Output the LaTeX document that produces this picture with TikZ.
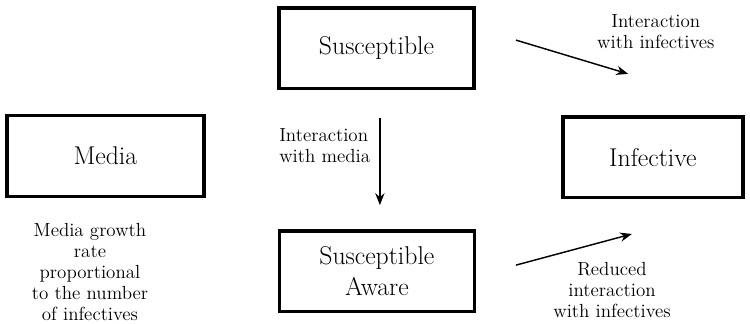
\documentclass[tikz,border=0pt]{standalone}
\usetikzlibrary{arrows.meta}
\tikzset{
    box/.style={draw, line width=2.7pt, minimum height=2.15cm,
                inner sep=4pt, align=center,
                font=\fontsize{19.5}{23}\selectfont},
    flow/.style={-{Stealth[length=9pt, width=7pt]}, line width=1.1pt},
    note/.style={align=center, font=\fontsize{14.4}{16}\selectfont},
}

\begin{document}
\begin{tikzpicture}
    \useasboundingbox (0,0) rectangle (20,8.64);
    \node[box, minimum width=5.2cm] (sus) at (10.04, 7.35) {Susceptible};
    \node[box, minimum width=5.25cm] (media) at (2.81, 4.48) {Media};
    \node[box, minimum width=4.8cm] (inf) at (17.41, 4.45) {Infective};
    \node[box, minimum width=5.2cm] (aware) at (10.05, 1.41) {Susceptible\\Aware};

    \coordinate (topA) at (13.76, 7.57);
    \coordinate (topB) at (16.75, 6.67);
    \coordinate (midA) at (10.13, 5.49);
    \coordinate (midB) at (10.13, 3.17);
    \coordinate (lowA) at (13.76, 1.57);
    \coordinate (lowB) at (16.85, 2.40);

    \draw[flow] (topA) -- (topB);
    \draw[flow] (midA) -- (midB);
    \draw[flow] (lowA) -- (lowB);

    \node[note] (infnote) at (17.49, 7.79) {Interaction\\with infectives};
    \node[note, align=left, anchor=west, inner sep=0pt] (medianote) at (7.44, 4.75) {Interaction\\with media};
    \node[note] (growth) at (2.4, 1.39) {Media growth\\rate\\proportional\\to the number\\of infectives};
    \node[note] (reduced) at (16.32, 0.91) {Reduced\\interaction\\with infectives};
\end{tikzpicture}
\end{document}
